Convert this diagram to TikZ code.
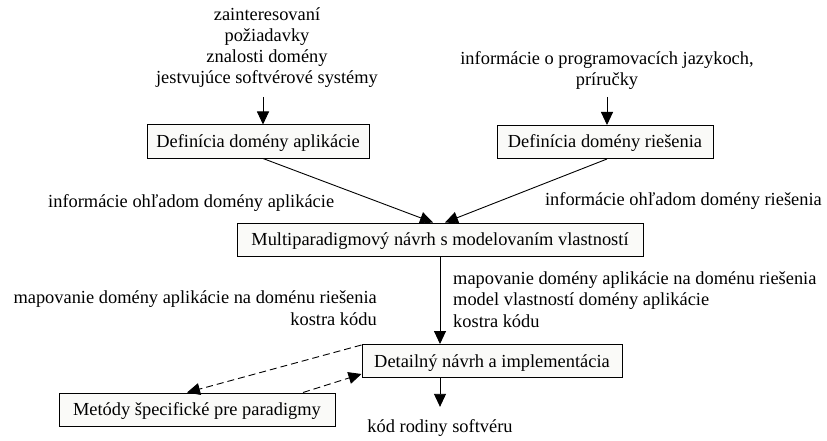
\documentclass[tikz,border=0pt]{standalone}
\usepackage{fontspec}
\setmainfont{Liberation Serif}
\usetikzlibrary{arrows.meta}
\definecolor{boxfill}{RGB}{250,250,248}
\begin{document}
\begin{tikzpicture}[x=1pt,y=-1pt,
  every node/.style={font=\fontsize{18.4pt}{21.2pt}\selectfont, inner sep=0pt},
  box/.style={draw=black, line width=1pt, fill=boxfill, inner xsep=6pt, inner ysep=7.5pt,
    text height=15pt, text depth=3pt, minimum height=33pt},
  lbl/.style={},
  arr/.style={line width=0.9pt, -{Triangle[length=13pt,width=12pt]}},
  darr/.style={line width=0.9pt, dash pattern=on 7pt off 4pt, -{Triangle[length=13pt,width=12pt]}}]
\fill[white] (0,0) rectangle (827,441);
\useasboundingbox (0,0) rectangle (827,441);

% boxes
\node[box, minimum width=222pt] (b1) at (258,141.5) {Definícia domény aplikácie};
\node[box, minimum width=216pt] (b2) at (605,142) {Definícia domény riešenia};
\node[box, minimum width=406pt] (b3) at (440,239.5) {Multiparadigmový návrh s modelovaním vlastností};
\node[box, minimum width=260pt] (b4) at (492,361) {Detailný návrh a implementácia};
\node[box, minimum width=276pt] (b5) at (197,409.5) {Metódy špecifické pre paradigmy};

% texts
\node[lbl, align=center, anchor=south] (t1) at (267,88) {zainteresovaní\\požiadavky\\znalosti domény\\jestvujúce softvérové systémy};
\node[lbl, align=center, anchor=south] (t2) at (607,90) {informácie o programovacích jazykoch,\\príručky};
\node[lbl, anchor=base west] (l1) at (48,207) {informácie ohľadom domény aplikácie};
\node[lbl, anchor=base east] (l2) at (822,205) {informácie ohľadom domény riešenia};
\node[lbl, align=left, anchor=south west] (l3) at (453,327.5) {mapovanie domény aplikácie na doménu riešenia\\model vlastností domény aplikácie\\kostra kódu};
\node[lbl, align=right, anchor=south east] (l4) at (377,325.5) {mapovanie domény aplikácie na doménu riešenia\\kostra kódu};
\node[lbl, anchor=base] (k) at (440,432) {kód rodiny softvéru};

% connectors
\draw[arr] ([xshift=-4pt]t1.south |- 0,97) -- ([xshift=-4pt]t1.south |- b1.north);
\draw[arr] (t2.south |- 0,97) -- (t2.south |- b2.north);
\draw[arr] ([xshift=5pt]b1.south) -- ([xshift=-7pt]b3.north);
\draw[arr] ([xshift=2pt]b2.south) -- ([xshift=5pt]b3.north);
\draw[arr] (b3.south) -- (b3.south |- b4.north);
\draw[arr] (b4.south -| k.north) -- ([yshift=12pt]k.north);
\draw[darr] ([yshift=-1pt]b4.north west) -- ([xshift=-10pt]b5.north);
\draw[darr] ([xshift=106pt]b5.north) -- ([yshift=4pt]b4.south west);
\end{tikzpicture}
\end{document}
